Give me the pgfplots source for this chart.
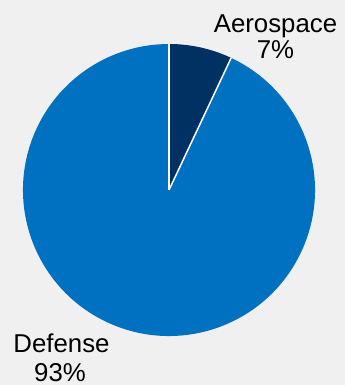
\documentclass[border=0pt]{standalone}
\usepackage{pgfplots}
\usepackage{pgfplotstable}
\pgfplotsset{compat=1.18}
\usepackage{fontspec}
\setmainfont{Liberation Sans}
\definecolor{bgc}{HTML}{F0F0F0}
\definecolor{navy}{HTML}{003162}
\definecolor{defblue}{HTML}{0070C0}
\pgfplotstableread{
label value
Aerospace 7
Defense 93
}\piedata
\pgfplotstablegetelem{0}{value}\of\piedata \let\va\pgfplotsretval
\pgfplotstablegetelem{1}{value}\of\piedata \let\vb\pgfplotsretval
\pgfmathsetmacro\aStart{90}
\pgfmathsetmacro\aMid{90-3.6*\va}
\pgfmathsetmacro\aEnd{\aMid-3.6*\vb}
\begin{document}
\begin{tikzpicture}
\begin{axis}[x=1pt,y=1pt,xmin=0,xmax=345,ymin=0,ymax=385,hide axis,clip=false]
\fill[bgc] (axis cs:0,0) rectangle (axis cs:345,385);
\fill[navy] (axis cs:169,195) -- ++(\aStart:146pt) arc[start angle=\aStart,end angle=\aMid,radius=146pt] -- cycle;
\fill[defblue] (axis cs:169,195) -- ++(\aMid:146pt) arc[start angle=\aMid,end angle=\aEnd,radius=146pt] -- cycle;
\draw[white,line width=1.5pt] (axis cs:169,195) -- ++(\aStart:146pt);
\draw[white,line width=1.5pt] (axis cs:169,195) -- ++(\aMid:146pt);
\node[anchor=base,font=\fontsize{25.8}{28}\selectfont,inner sep=0pt] at (axis cs:275.5,352) {Aerospace};
\node[anchor=base,font=\fontsize{25.8}{28}\selectfont,inner sep=0pt] at (axis cs:275.5,326) {7\%};
\node[anchor=base,font=\fontsize{25.8}{28}\selectfont,inner sep=0pt] at (axis cs:61.5,32) {Defense};
\node[anchor=base,font=\fontsize{25.8}{28}\selectfont,inner sep=0pt] at (axis cs:60,4) {93\%};
\end{axis}
\end{tikzpicture}
\end{document}
